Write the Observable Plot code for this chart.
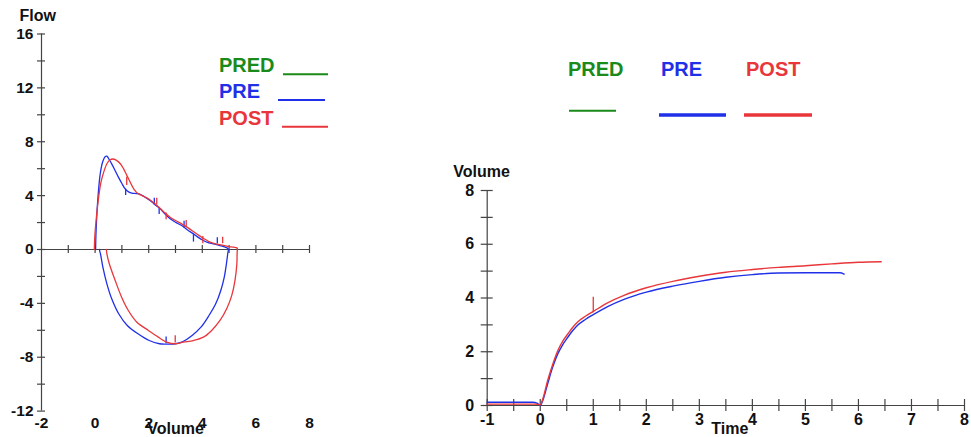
<!DOCTYPE html>
<html><head><meta charset="utf-8">
<script src="https://cdn.jsdelivr.net/npm/d3@7"></script>
<script src="https://cdn.jsdelivr.net/npm/@observablehq/plot@0.6"></script>
<style>
body{margin:0;background:#fff;}
#wrap{position:relative;width:971px;height:437px;overflow:hidden;background:#fff;font-family:"Liberation Sans",Arial,sans-serif;}
#left,#right,#legend{position:absolute;top:0;}
#left{left:0}
#right{left:440px}
#legend{left:0;pointer-events:none}
</style></head><body>
<div id="wrap"><div id="left"></div><div id="right"></div><svg id="legend" width="971" height="437"></svg></div>
<script>
// ---------- Flow-volume loop (left) ----------
const volTicks = [-1,0,1,2,3,4,5,6,7,8];
const volLabels = [-2,0,2,4,6,8];
const flowTicks = [-12,-10,-8,-6,-4,-2,0,2,4,6,8,10,12,14,16];
const flowLabels = [-12,-8,-4,0,4,8,12,16];

const preVolume = [0.02,0.03,0.06,0.12,0.19,0.28,0.38,0.44,0.52,0.62,0.75,0.87,1.0,1.12,1.25,1.37,1.55,1.68,1.85,2.05,2.25,2.43,2.6,2.8,3.0,3.23,3.45,3.67,3.85,4.04,4.2,4.41,4.6,4.79,4.92,4.97,
  4.95,4.9,4.82,4.69,4.5,4.25,3.95,3.62,3.28,3.0,2.7,2.4,2.02,1.6,1.2,0.88,0.62,0.44,0.29,0.2,0.17,0.17];
const preFlow = [0,1.0,2.4,4.2,5.6,6.5,6.9,6.93,6.7,6.36,5.85,5.37,4.9,4.5,4.28,4.18,4.15,4.1,3.9,3.64,3.3,3.02,2.65,2.28,2.02,1.78,1.45,1.16,0.9,0.67,0.52,0.42,0.32,0.22,0.12,0.03,
  -0.3,-1.06,-2.05,-3.04,-4.03,-4.9,-5.77,-6.38,-6.83,-7.0,-7.02,-7.0,-6.76,-6.26,-5.64,-4.77,-3.66,-2.55,-1.31,-0.32,-0.1,0];

const postVolume = [-0.03,-0.01,0.03,0.08,0.14,0.22,0.33,0.45,0.56,0.65,0.8,0.95,1.06,1.16,1.26,1.36,1.46,1.6,1.8,2.0,2.2,2.4,2.6,2.8,3.0,3.23,3.4,3.61,3.8,3.98,4.15,4.29,4.55,4.79,5.0,5.16,5.29,5.31,
  5.3,5.29,5.22,5.1,4.91,4.66,4.35,4.04,3.67,3.3,2.99,2.67,2.36,1.99,1.56,1.24,0.99,0.75,0.53,0.44,0.42];
const postFlow = [0,1.0,2.0,3.0,4.0,5.0,5.8,6.4,6.66,6.72,6.62,6.35,6.0,5.6,5.2,4.8,4.45,4.15,3.95,3.75,3.45,3.1,2.72,2.4,2.15,1.9,1.7,1.41,1.15,0.91,0.7,0.54,0.4,0.3,0.22,0.17,0.12,0.05,
  -0.2,-1.06,-2.3,-3.41,-4.4,-5.27,-6.01,-6.51,-6.76,-6.88,-7.0,-6.88,-6.51,-6.01,-5.4,-4.53,-3.54,-2.3,-1.06,-0.32,0];

// small time-marker ticks on the loops: volume, flow low, flow high
const preMarkVol = [1.14,2.21,2.39,3.32,3.67,4.56,2.65];
const preMarkLo  = [4.0,3.3,2.6,1.6,0.55,0.4,-7.0];
const preMarkHi  = [4.5,3.8,3.1,2.1,1.1,0.87,-6.5];
const postMarkVol = [1.18,2.3,2.65,3.4,4.02,4.76,2.99];
const postMarkLo  = [4.75,3.3,2.2,1.66,0.42,0.42,-6.95];
const postMarkHi  = [5.37,3.8,2.7,2.15,0.97,0.91,-6.4];

// ---------- Volume-time (right) ----------
const timeTicks = [-1,-0.5,0,0.5,1,1.5,2,2.5,3,3.5,4,4.5,5,5.5,6,6.5,7,7.5,8];
const timeLabels = [-1,0,1,2,3,4,5,6,7,8];
const vtTicks = [0,1,2,3,4,5,6,7,8];
const vtLabels = [0,2,4,6,8];

const preTime = [-1,-0.15,-0.05,0.0,0.05,0.14,0.23,0.33,0.42,0.52,0.61,0.70,0.85,1.0,1.27,1.58,2.0,2.52,3.0,3.5,4.0,4.49,5.0,5.5,5.65,5.73];
const preVol  = [0.12,0.12,0.08,0.0,0.2,0.81,1.4,1.92,2.25,2.54,2.78,2.98,3.2,3.38,3.68,3.95,4.22,4.45,4.62,4.77,4.87,4.93,4.94,4.94,4.94,4.89];
const postTime = [-1,-0.1,0,0.05,0.14,0.23,0.33,0.42,0.52,0.61,0.70,0.85,1.0,1.27,1.58,2.0,2.52,3.0,3.5,4.0,4.49,5.0,5.5,6.0,6.43];
const postVol  = [0.05,0.05,0.03,0.25,0.93,1.5,2.04,2.38,2.66,2.9,3.1,3.32,3.5,3.82,4.1,4.38,4.63,4.81,4.96,5.06,5.14,5.2,5.27,5.33,5.35];
const postFev1Time = [1];
const postFev1Lo = [3.45];
const postFev1Hi = [4.03];

const legendLabels = ["PRED","PRE","POST"];
const legendColors = ["#1a8a1a","#1f30e8","#e8363a"];

// ---------- helpers ----------
const C = {pred: legendColors[0], pre: legendColors[1], post: legendColors[2]};
const axisColor = "#444";
const font = "'Liberation Sans', Arial, sans-serif";
const zip = (xs, ys) => xs.map((x, i) => ({x, y: ys[i]}));
const zip3 = (xs, lo, hi) => xs.map((x, i) => ({x, y1: lo[i], y2: hi[i]}));
const txt = {lineAnchor: "middle", fontWeight: "bold", fill: "#111"};

const left = Plot.plot({
  width: 330, height: 437,
  marginLeft: 41, marginRight: 21, marginTop: 33.5, marginBottom: 26.4,
  x: {domain: [-2, 8], axis: null},
  y: {domain: [-12, 16], axis: null},
  style: {fontFamily: font, background: "transparent", overflow: "visible"},
  marks: [
    Plot.ruleX([-2], {x: d => d, stroke: axisColor, strokeWidth: 1.2}),
    Plot.ruleY([0], {y: d => d, stroke: axisColor, strokeWidth: 1.2}),
    Plot.ruleY(flowTicks, {y: d => d, x1: -2, x2: -2, insetLeft: -4, insetRight: -4, stroke: axisColor, strokeWidth: 1.2}),
    Plot.ruleX(volTicks, {x: d => d, y1: 0, y2: 0, insetTop: -4, insetBottom: -4, stroke: axisColor, strokeWidth: 1.2}),
    Plot.text(flowLabels, {...txt, y: d => d, text: d => String(d), frameAnchor: "left", dx: -8, textAnchor: "end", fontSize: 15.5}),
    Plot.text(volLabels, {...txt, x: d => d, text: d => String(d), frameAnchor: "bottom", dy: 11.5, fontSize: 15.5}),
    Plot.text(["Flow"], {...txt, text: d => d, frameAnchor: "top-left", dx: -22, dy: -18, textAnchor: "start", fontSize: 16}),
    Plot.text(["Volume"], {...txt, text: d => d, frameAnchor: "bottom", dy: 17.8, fontSize: 16}),
    Plot.line(zip(preVolume, preFlow), {x: "x", y: "y", stroke: C.pre, strokeWidth: 1.3, curve: "catmull-rom"}),
    Plot.ruleX(zip3(preMarkVol, preMarkLo, preMarkHi), {x: "x", y1: "y1", y2: "y2", stroke: C.pre, strokeWidth: 1.3}),
    Plot.line(zip(postVolume, postFlow), {x: "x", y: "y", stroke: C.post, strokeWidth: 1.3, curve: "catmull-rom"}),
    Plot.ruleX(zip3(postMarkVol, postMarkLo, postMarkHi), {x: "x", y1: "y1", y2: "y2", stroke: C.post, strokeWidth: 1.3})
  ]
});
document.getElementById("left").append(left);

const right = Plot.plot({
  width: 531, height: 437,
  marginLeft: 46.7, marginRight: 7, marginTop: 190, marginBottom: 32,
  x: {domain: [-1, 8], axis: null},
  y: {domain: [0, 8], axis: null},
  style: {fontFamily: font, background: "transparent", overflow: "visible"},
  marks: [
    Plot.ruleX([-1], {x: d => d, stroke: axisColor, strokeWidth: 1.2}),
    Plot.ruleY([0], {y: d => d, stroke: axisColor, strokeWidth: 1.2}),
    Plot.ruleY(vtTicks, {y: d => d, x1: -1, x2: -1, insetLeft: -6, insetRight: -6, stroke: axisColor, strokeWidth: 1.2}),
    Plot.ruleX(timeTicks, {x: d => d, y1: 0, y2: 0, insetTop: -6, insetBottom: -6, stroke: axisColor, strokeWidth: 1.2}),
    Plot.text(vtLabels, {...txt, y: d => d, text: d => String(d), frameAnchor: "left", dx: -13, textAnchor: "end", fontSize: 16}),
    Plot.text(timeLabels, {...txt, x: d => d, text: d => String(d), frameAnchor: "bottom", dy: 14, fontSize: 16}),
    Plot.text(["Volume"], {...txt, text: d => d, frameAnchor: "top-left", dx: -34, dy: -19, textAnchor: "start", fontSize: 16}),
    Plot.text(["Time"], {...txt, text: d => d, frameAnchor: "bottom", dx: 4, dy: 23.5, fontSize: 16}),
    Plot.line(zip(preTime, preVol), {x: "x", y: "y", stroke: C.pre, strokeWidth: 1.4, curve: "monotone-x"}),
    Plot.line(zip(postTime, postVol), {x: "x", y: "y", stroke: C.post, strokeWidth: 1.4, curve: "monotone-x"}),
    Plot.ruleX(zip3(postFev1Time, postFev1Lo, postFev1Hi), {x: "x", y1: "y1", y2: "y2", stroke: C.post, strokeWidth: 1.3})
  ]
});
document.getElementById("right").append(right);

// ---------- legends ----------
const lg = d3.select("#legend");
const leftLegend = [
  {tx: 219, ty: 71.7, x1: 283, x2: 328, ly: 74.3, w: 2},
  {tx: 219, ty: 98.3, x1: 278, x2: 325, ly: 100, w: 2},
  {tx: 219, ty: 125, x1: 282, x2: 328, ly: 126.7, w: 2}
];
const rightLegend = [
  {tx: 568, ty: 76, x1: 569, x2: 616, ly: 110.7, w: 2},
  {tx: 661, ty: 76, x1: 659, x2: 726, ly: 115, w: 3.5},
  {tx: 746, ty: 76, x1: 744, x2: 812, ly: 115, w: 3.5}
];
for (const set of [leftLegend, rightLegend]) {
  set.forEach((p, i) => {
    lg.append("text").attr("x", p.tx).attr("y", p.ty).attr("fill", legendColors[i])
      .attr("font-family", font).attr("font-size", 20).attr("font-weight", "bold").text(legendLabels[i]);
    lg.append("line").attr("x1", p.x1).attr("x2", p.x2).attr("y1", p.ly).attr("y2", p.ly)
      .attr("stroke", legendColors[i]).attr("stroke-width", p.w);
  });
}
</script>
</body></html>
